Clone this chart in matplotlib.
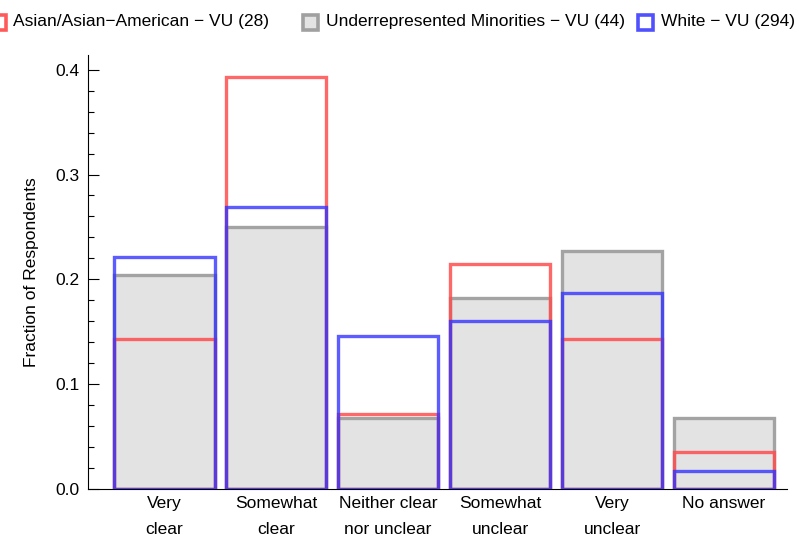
import matplotlib
matplotlib.use('Agg')
import matplotlib.pyplot as plt
from matplotlib.ticker import MultipleLocator
from matplotlib.patches import Rectangle

categories = ['Very\nclear', 'Somewhat\nclear', 'Neither clear\nnor unclear',
              'Somewhat\nunclear', 'Very\nunclear', 'No answer']
asian = [4/28, 11/28, 2/28, 6/28, 4/28, 1/28]
urm = [9/44, 11/44, 3/44, 8/44, 10/44, 3/44]
white = [65/294, 79/294, 43/294, 47/294, 55/294, 5/294]
series_names = ['Asian/Asian\u2212American \u2212 VU (28)',
                'Underrepresented Minorities \u2212 VU (44)',
                'White \u2212 VU (294)']

plt.rcParams['font.family'] = ['Liberation Sans', 'DejaVu Sans']

fig = plt.figure(figsize=(8.11, 5.34), dpi=100)
ax = fig.add_axes([0.1085, 0.0843, 0.8615, 0.8127])

x = list(range(1, len(categories) + 1))
w = 0.9
# gray filled bars first, then the two outlined series on top
ax.bar(x, urm, width=w, color='#e3e3e3', edgecolor='#a3a3a3', linewidth=2.4, zorder=2)
ax.bar(x, asian, width=w, color='none', edgecolor=(1, 0.3, 0.3, 0.85), linewidth=2.4, zorder=3)
ax.bar(x, white, width=w, color='none', edgecolor=(0.2, 0.2, 1, 0.8), linewidth=2.4, zorder=4)

ax.set_xlim(0.32, 6.56)
ax.set_ylim(0, 0.414)
ax.set_xticks(x)
ax.set_xticklabels(categories, fontsize=12.5, linespacing=1.9)
ax.yaxis.set_major_locator(MultipleLocator(0.1))
ax.yaxis.set_minor_locator(MultipleLocator(0.02))
ax.yaxis.set_major_formatter(plt.FuncFormatter(lambda v, p: '%.1f' % v))
ax.tick_params(axis='y', which='major', direction='in', length=8, width=0.8, labelsize=12.5, pad=6)
ax.tick_params(axis='y', which='minor', direction='in', length=4, width=0.8)
ax.tick_params(axis='x', direction='in', length=4, width=0.8, pad=5)
for s in ['top', 'right']:
    ax.spines[s].set_visible(False)
ax.set_ylabel('Fraction of Respondents', fontsize=12.5, labelpad=12)

# legend along the top, drawn as figure elements
legend_items = [
    (series_names[0], 'white', '#ff5a5a', 0.0),
    (series_names[1], '#e3e3e3', '#a0a0a0', 0.385),
    (series_names[2], 'white', '#5050ff', 0.798),
]
for label, fc, ec, lx in legend_items:
    fig.patches.append(Rectangle((lx - 0.0115, 0.944), 0.0185, 0.028, transform=fig.transFigure,
                                 facecolor=fc, edgecolor=ec, linewidth=2.6))
    fig.text(lx + 0.0165, 0.959, label, fontsize=12.5, va='center', ha='left')

fig.savefig('out.png', dpi=100)
